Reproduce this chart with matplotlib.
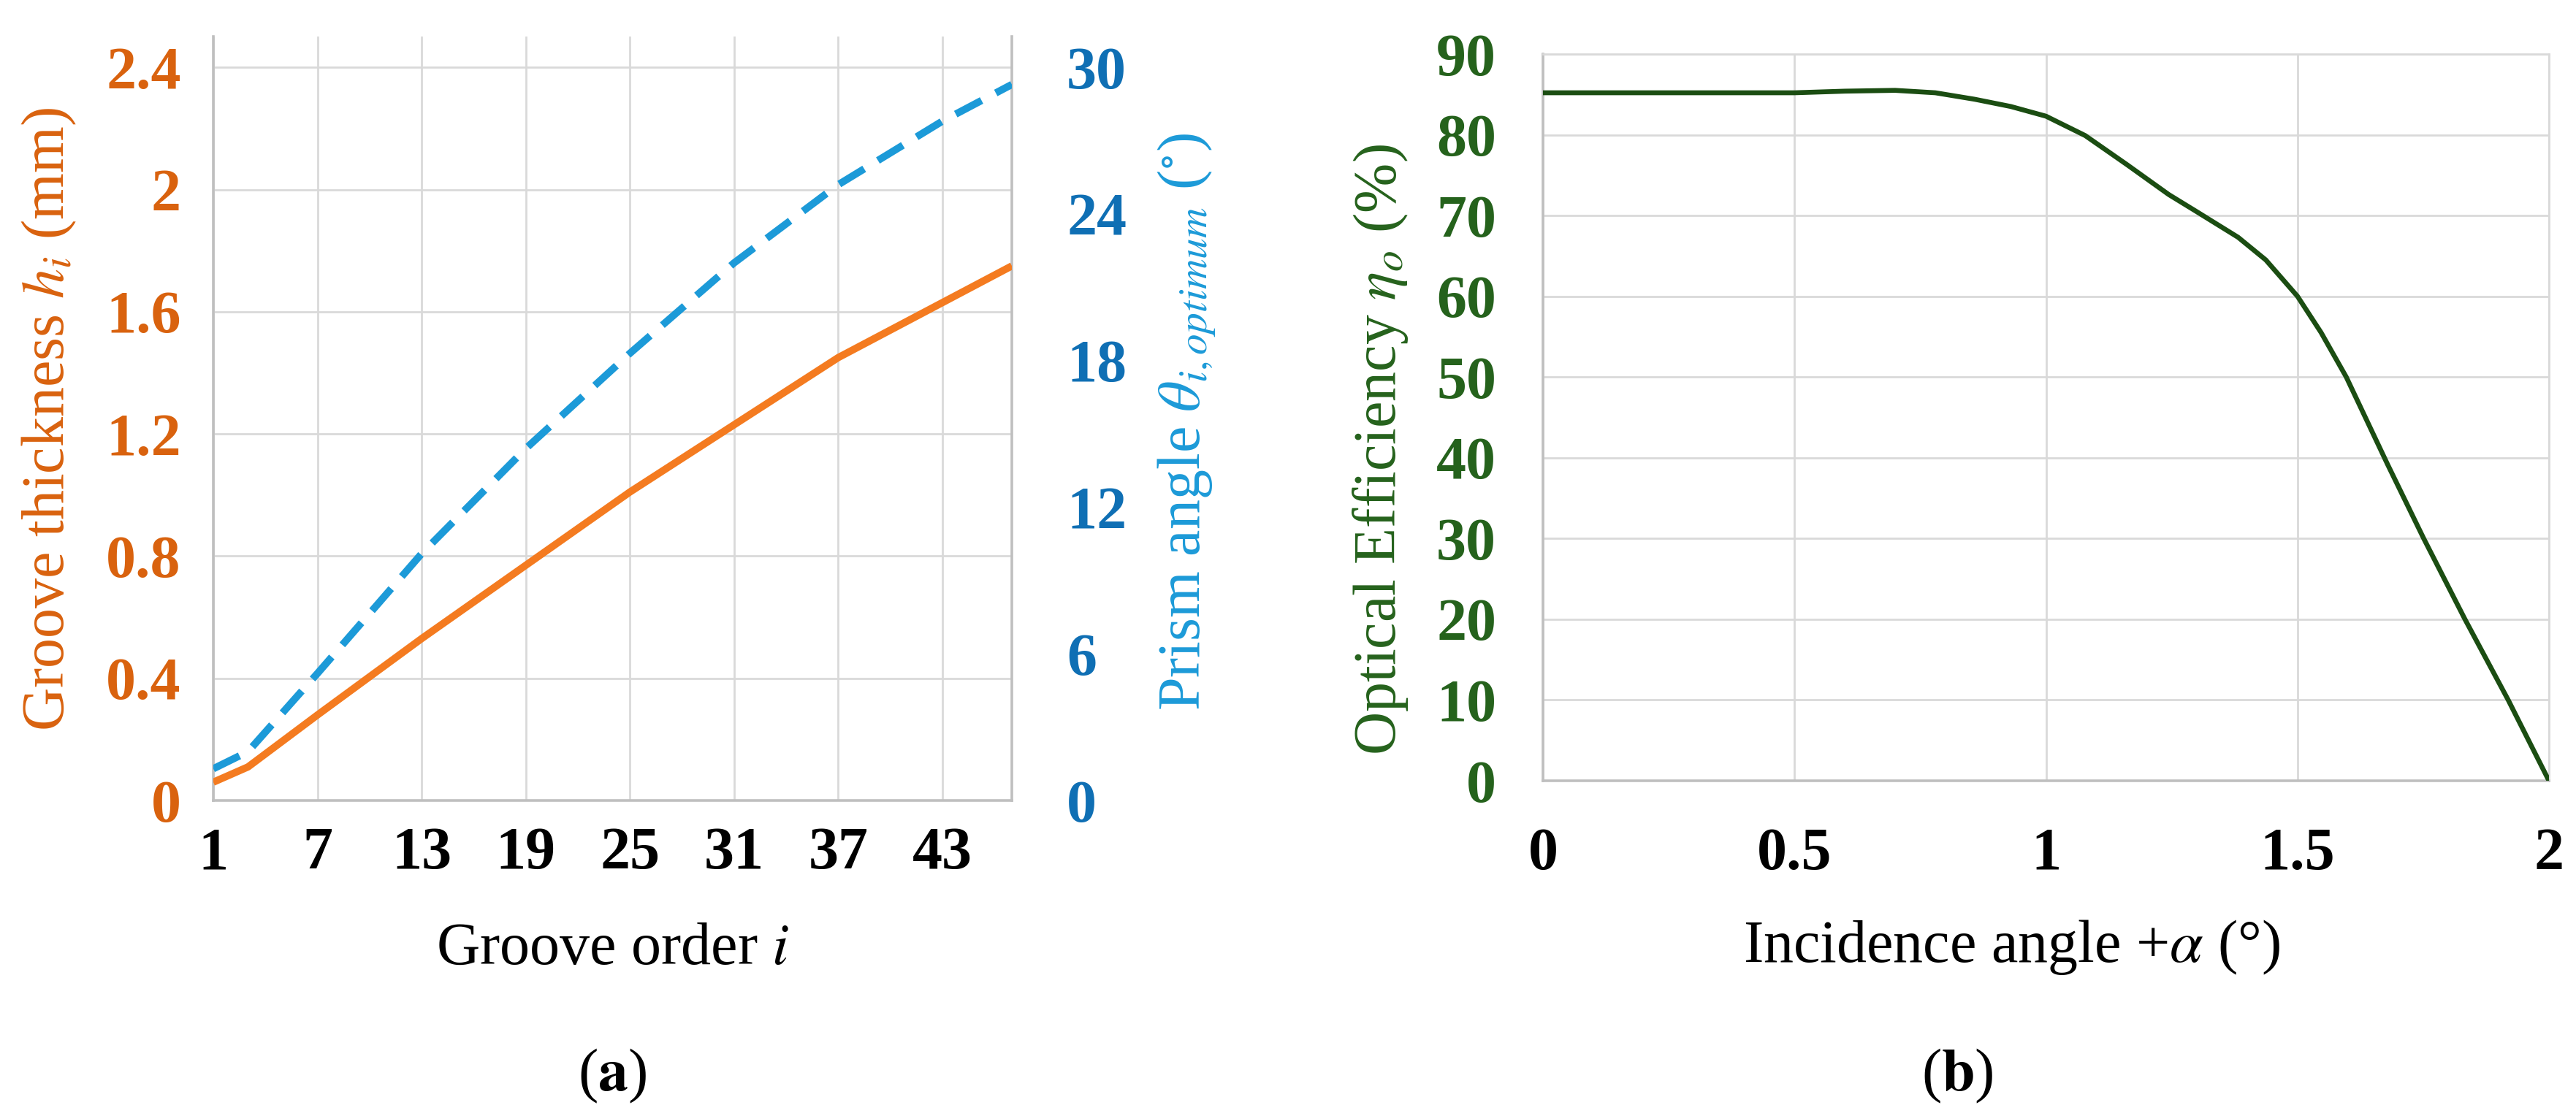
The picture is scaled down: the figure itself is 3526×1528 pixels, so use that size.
import matplotlib
matplotlib.use("Agg")
import matplotlib.pyplot as plt

plt.rcParams['font.family'] = ['Liberation Serif', 'DejaVu Serif']
plt.rcParams['mathtext.fontset'] = 'stix'

# (a) groove data
groove = [1, 3, 7, 13, 19, 25, 31, 37, 43, 47]
thickness = [0.06, 0.11, 0.28, 0.53, 0.77, 1.01, 1.23, 1.45, 1.63, 1.75]
prism_angle = [1.3, 2.0, 5.2, 10.1, 14.4, 18.3, 22.0, 25.2, 27.8, 29.3]
groove_ticks = [1, 7, 13, 19, 25, 31, 37, 43]
h_ticks = [0, 0.4, 0.8, 1.2, 1.6, 2.0, 2.4]
h_labels = ['0', '0.4', '0.8', '1.2', '1.6', '2', '2.4']
theta_ticks = [0, 6, 12, 18, 24, 30]

# (b) optical efficiency vs incidence angle
alpha = [0, 0.25, 0.5, 0.6, 0.7, 0.78, 0.858, 0.93, 1.0, 1.078, 1.161, 1.244, 1.299, 1.382,
         1.437, 1.5, 1.547, 1.597, 1.679, 1.751, 1.833, 1.919, 2.0]
efficiency = [85.2, 85.2, 85.2, 85.4, 85.5, 85.2, 84.4, 83.5, 82.3, 79.9, 76.3, 72.6, 70.5, 67.3,
              64.5, 60.0, 55.5, 50.0, 39.2, 30.0, 20.0, 10.0, 0.0]
alpha_ticks = [0, 0.5, 1, 1.5, 2]
alpha_labels = ['0', '0.5', '1', '1.5', '2']
eff_ticks = list(range(0, 100, 10))

orange_line = '#F47B20'
orange_text = '#D9620E'
blue_line = '#1C9AD8'
blue_text = '#0F6FB4'
green_line = '#1B4D12'
green_text = '#25621C'
grid_c = '#D9D9D9'
spine_c = '#BFBFBF'
fs = 29.5

fig = plt.figure(figsize=(17.63, 7.64), dpi=200)

# ---- panel (a)
ax1 = fig.add_axes([0.0828, 0.2827, 0.3100, 0.6843])
ax1.plot(groove, thickness, color=orange_line, lw=3.6, solid_capstyle='butt', zorder=3)
ax1.set_xlim(1, 47)
ax1.set_ylim(0, 2.5)
ax1.set_xticks(groove_ticks)
ax1.set_yticks(h_ticks)
ax1.set_yticklabels(h_labels)
ax1.grid(True, color=grid_c, lw=1.0)
ax1.set_axisbelow(True)
ax1.spines['top'].set_visible(False)
for s in ['left', 'bottom', 'right']:
    ax1.spines[s].set_color(spine_c)
    ax1.spines[s].set_linewidth(1.3)
ax1.tick_params(axis='both', length=0, labelsize=fs)
ax1.tick_params(axis='x', pad=13)
ax1.tick_params(axis='y', pad=16, labelcolor=orange_text)
for lab in ax1.get_xticklabels() + ax1.get_yticklabels():
    lab.set_fontweight('bold')

ax2 = ax1.twinx()
ax2.plot(groove, prism_angle, color=blue_line, lw=3.6, dashes=(4, 2.2), zorder=3)
ax2.set_ylim(0, 30 * 2.5 / 2.4)
ax2.set_yticks(theta_ticks)
ax2.tick_params(axis='y', length=0, labelsize=fs, pad=27, labelcolor=blue_text)
for s in ax2.spines.values():
    s.set_visible(False)
for lab in ax2.get_yticklabels():
    lab.set_fontweight('bold')

fig.text(0.019, 0.624, r'Groove thickness $h_i$ (mm)', rotation=90, color=orange_text,
         fontsize=fs, ha='center', va='center')
fig.text(0.4606, 0.622, r'Prism angle $\theta_{i,optimum}$ ($^{\circ}$)', rotation=90,
         color=blue_line, fontsize=fs, ha='center', va='center')
fig.text(0.238, 0.149, r'Groove order $i$', fontsize=fs, ha='center', va='center')
fig.text(0.2376, 0.036, r'($\mathbf{a}$)', fontsize=fs, ha='center', va='center')

# ---- panel (b)
ax3 = fig.add_axes([0.599, 0.3004, 0.3905, 0.6512])
ax3.plot(alpha, efficiency, color=green_line, lw=2.4, zorder=3)
ax3.set_xlim(0, 2)
ax3.set_ylim(0, 90)
ax3.set_xticks(alpha_ticks)
ax3.set_xticklabels(alpha_labels)
ax3.set_yticks(eff_ticks)
ax3.grid(True, color=grid_c, lw=1.0)
ax3.set_axisbelow(True)
for s in ['top', 'right']:
    ax3.spines[s].set_color(grid_c)
    ax3.spines[s].set_linewidth(1.0)
for s in ['left', 'bottom']:
    ax3.spines[s].set_color(spine_c)
    ax3.spines[s].set_linewidth(1.3)
ax3.tick_params(axis='both', length=0, labelsize=fs)
ax3.tick_params(axis='x', pad=23)
ax3.tick_params(axis='y', pad=23, labelcolor=green_text)
for lab in ax3.get_xticklabels() + ax3.get_yticklabels():
    lab.set_fontweight('bold')

fig.text(0.536, 0.597, r'Optical Efficiency $\eta_o$ (%)', rotation=90, color=green_text,
         fontsize=fs, ha='center', va='center')
fig.text(0.781, 0.151, r'Incidence angle +$\alpha$ (°)', fontsize=fs, ha='center', va='center')
fig.text(0.760, 0.036, r'($\mathbf{b}$)', fontsize=fs, ha='center', va='center')

fig.savefig('out.png', dpi=200)
